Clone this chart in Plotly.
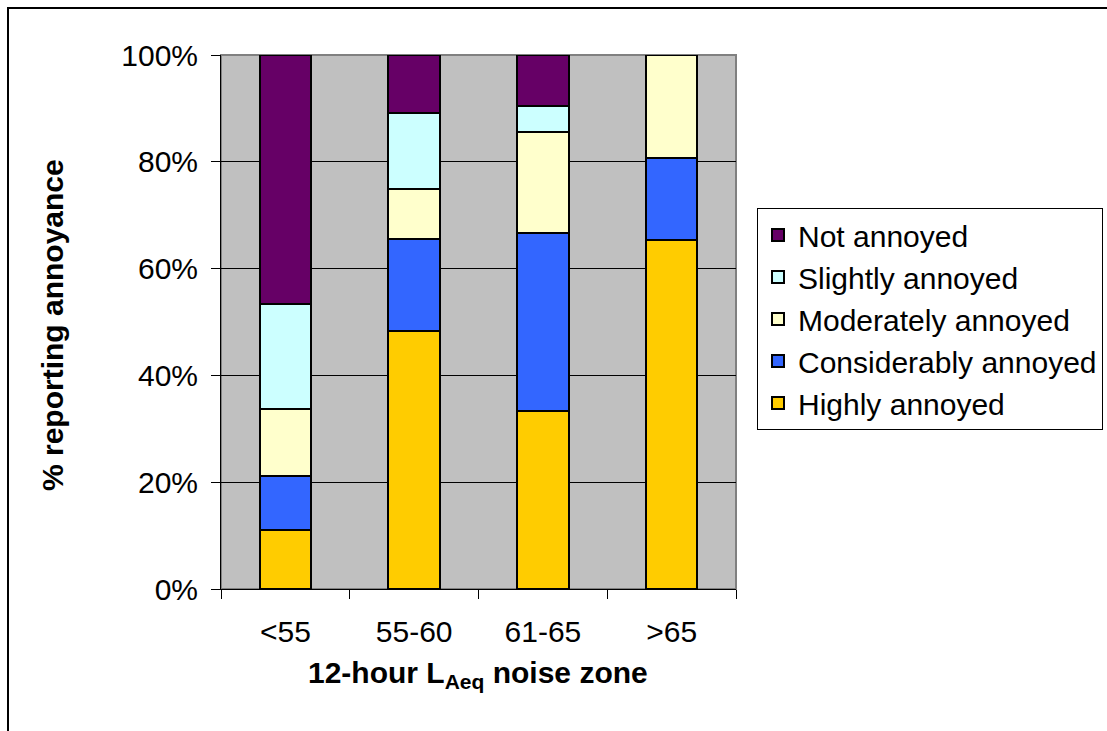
import plotly.graph_objects as go

categories = ["<55", "55-60", "61-65", ">65"]
highly = [11.0, 48.3, 33.3, 65.4]
considerably = [10.1, 17.3, 33.3, 15.4]
moderately = [12.7, 9.3, 19.0, 19.2]
slightly = [19.5, 14.2, 4.8, 0.0]
not_annoyed = [46.7, 10.9, 9.6, 0.0]

series = [
    ("Highly annoyed", highly, "#FFCC00"),
    ("Considerably annoyed", considerably, "#3366FF"),
    ("Moderately annoyed", moderately, "#FFFFCC"),
    ("Slightly annoyed", slightly, "#CCFFFF"),
    ("Not annoyed", not_annoyed, "#660066"),
]

FONT = "Arial, Liberation Sans, sans-serif"

fig = go.Figure()
for name, vals, color in series:
    fig.add_trace(go.Bar(
        x=categories, y=vals, name=name,
        marker=dict(color=color, line=dict(color="black", width=2)),
    ))

W, H = 1107, 731
L, R, T, B = 221, 371, 55, 142
pw, ph = W - L - R, H - T - B

def px(x):
    return (x - L) / pw

def py(y):
    return (H - B - y) / ph

fig.update_layout(
    width=W, height=H,
    margin=dict(l=L, r=R, t=T, b=B, autoexpand=False),
    barmode="stack", bargap=0.6,
    paper_bgcolor="white", plot_bgcolor="#C0C0C0",
    font=dict(family=FONT, size=30, color="black"),
    showlegend=True,
    legend=dict(
        x=px(757), y=py(208), xanchor="left", yanchor="top",
        traceorder="reversed", bgcolor="white",
        bordercolor="black", borderwidth=1,
        font=dict(family=FONT, size=30, color="black"),
        tracegroupgap=0,
    ),
    xaxis=dict(
        type="category", showline=True, linecolor="black", linewidth=1,
        ticks="outside", ticklen=9, tickcolor="black", tickson="boundaries",
        showgrid=False, ticklabelstandoff=16,
        tickfont=dict(family=FONT, size=30, color="black"),
    ),
    yaxis=dict(
        range=[0, 100], dtick=20, ticksuffix="%",
        showline=True, linecolor="black", linewidth=1,
        ticks="outside", ticklen=9, tickcolor="black",
        showgrid=True, gridcolor="black", gridwidth=1,
        zeroline=False, ticklabelstandoff=7,
        tickfont=dict(family=FONT, size=30, color="black"),
    ),
    shapes=[
        dict(type="rect", xref="paper", yref="paper", x0=0, x1=1, y0=0, y1=1,
             line=dict(color="#808080", width=2), layer="between"),
        dict(type="rect", xref="paper", yref="paper",
             x0=px(8), x1=px(1120), y0=py(745), y1=py(8),
             line=dict(color="black", width=2), fillcolor="rgba(0,0,0,0)"),
    ],
    annotations=[
        dict(text="<b>12-hour L<sub>Aeq</sub> noise zone</b>", xref="paper", yref="paper",
             x=px(478), y=py(654), xanchor="center", yanchor="top", showarrow=False,
             font=dict(family=FONT, size=30, color="black")),
        dict(text="<b>% reporting annoyance</b>", xref="paper", yref="paper",
             x=px(52), y=py(325), xanchor="center", yanchor="middle", textangle=-90,
             showarrow=False, font=dict(family=FONT, size=30, color="black")),
    ],
)

fig.write_html("out.html")
